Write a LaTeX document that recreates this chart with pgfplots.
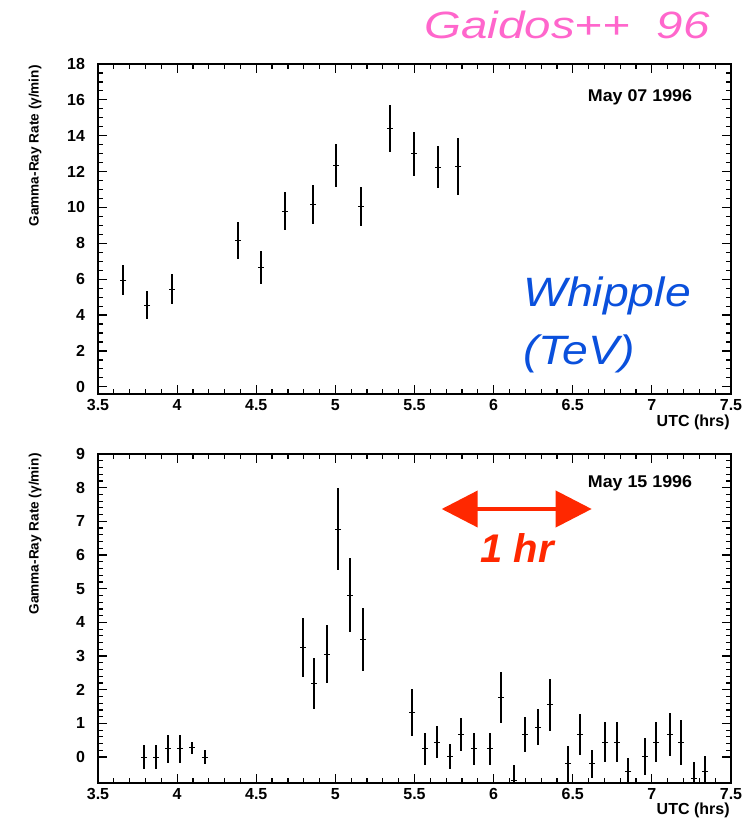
\documentclass[border=0pt]{standalone}
\usepackage{fontspec}
\setmainfont{Liberation Sans}
\usepackage{pgfplots}
\usepackage{pgfplotstable}
\pgfplotsset{compat=1.18}
\usetikzlibrary{arrows.meta}
\definecolor{gpink}{RGB}{255,102,204}
\definecolor{wblue}{RGB}{10,80,220}
\definecolor{ared}{RGB}{255,40,0}

\pgfplotstableread{
x y e
3.66 5.95 0.85
3.81 4.56 0.76
3.966 5.45 0.83
4.384 8.16 1.02
4.53 6.66 0.90
4.68 9.80 1.08
4.86 10.15 1.08
5.005 12.36 1.20
5.16 10.06 1.08
5.344 14.42 1.30
5.496 13.00 1.22
5.65 12.24 1.17
5.777 12.30 1.58
}\topdata

\pgfplotstableread{
x y e
3.791 0.00 0.36
3.867 0.00 0.36
3.941 0.24 0.42
4.019 0.24 0.42
4.093 0.27 0.18
4.177 0.00 0.20
4.793 3.26 0.87
4.863 2.18 0.75
4.947 3.06 0.86
5.017 6.77 1.22
5.090 4.81 1.10
5.175 3.50 0.93
5.485 1.33 0.69
5.565 0.24 0.48
5.639 0.44 0.48
5.722 0.02 0.36
5.791 0.67 0.48
5.875 0.24 0.48
5.975 0.24 0.48
6.048 1.77 0.75
6.128 -0.70 0.45
6.198 0.67 0.53
6.281 0.89 0.54
6.357 1.55 0.78
6.470 -0.20 0.54
6.547 0.67 0.62
6.620 -0.20 0.42
6.705 0.44 0.60
6.777 0.44 0.60
6.852 -0.43 0.40
6.956 0.02 0.54
7.027 0.44 0.60
7.114 0.67 0.65
7.184 0.44 0.67
7.264 -0.65 0.50
7.337 -0.43 0.47
}\botdata

\pgfplotsset{paw/.style={
  scale only axis, width=316.5pt,
  xmin=3.5, xmax=7.5, xtick={3.5,4,4.5,5,5.5,6,6.5,7,7.5},
  minor x tick num=4,
  tick align=inside, tick pos=both,
  major tick length=4.5pt, minor tick length=2.5pt,
  axis line style={line width=0.7pt},
  every tick/.style={black, line width=0.6pt},
  tick label style={font=\fontsize{8}{9}\selectfont\bfseries},
  /pgf/number format/assume math mode=true,
  xticklabel style={yshift=1pt},
  yticklabel style={xshift=-3pt},
}}
\pgfplotsset{pts/.style={black, only marks, mark=-, mark size=1.5pt, mark options={line width=0.5pt},
  error bars/.cd, y dir=both, y explicit, error mark=none, error bar style={line width=1pt}}}

\begin{document}
\begin{tikzpicture}
\path[use as bounding box] (0,0) rectangle (375.5pt,409.5pt);
\begin{axis}[paw, at={(49pt,212.5pt)}, anchor=south west, height=165pt,
  ymin=-0.4, ymax=18, ytick={0,2,...,18}, minor y tick num=3]
\addplot[pts] table[x=x, y=y, y error=e] {\topdata};
\end{axis}
\begin{axis}[paw, at={(49pt,18pt)}, anchor=south west, height=164.5pt,
  ymin=-0.77, ymax=9, ytick={0,1,...,9}, minor y tick num=4]
\addplot[pts] table[x=x, y=y, y error=e] {\botdata};
\end{axis}

% texts
\node[gpink, font=\fontsize{19}{20}\selectfont\itshape, xscale=1.25] at (283.5pt,397pt) {Gaidos++\ \ 96};
\node[wblue, anchor=base west, font=\fontsize{20.5}{22}\selectfont\itshape, xscale=1.13, inner sep=0pt] at (261.5pt,256pt) {Whipple};
\node[wblue, anchor=base west, font=\fontsize{20.5}{22}\selectfont\itshape, xscale=1.13, inner sep=0pt] at (261.5pt,227pt) {(TeV)};
\node[font=\fontsize{8.5}{9}\selectfont\bfseries, xscale=1.05] at (320pt,361pt) {May 07 1996};
\node[font=\fontsize{8.5}{9}\selectfont\bfseries, xscale=1.05] at (320pt,168pt) {May 15 1996};
\node[anchor=east, font=\fontsize{8}{9}\selectfont\bfseries, inner sep=0pt] at (365pt,198.5pt) {UTC (hrs)};
\node[anchor=east, font=\fontsize{8}{9}\selectfont\bfseries, inner sep=0pt] at (365pt,4.5pt) {UTC (hrs)};
\node[rotate=90, anchor=east, font=\fontsize{6.8}{7}\selectfont\bfseries, inner sep=0pt] at (17.5pt,377pt) {Gamma-Ray Rate (γ/min)};
\node[rotate=90, anchor=east, font=\fontsize{6.8}{7}\selectfont\bfseries, inner sep=0pt] at (17.5pt,183pt) {Gamma-Ray Rate (γ/min)};
\draw[ared, line width=2pt, {Triangle[width=18pt,length=18pt]}-{Triangle[width=18pt,length=18pt]}] (220.85pt,155pt) -- (295.85pt,155pt);
\node[ared, font=\fontsize{20}{22}\selectfont\bfseries\itshape] at (258.5pt,135.5pt) {1 hr};
\end{tikzpicture}
\end{document}
